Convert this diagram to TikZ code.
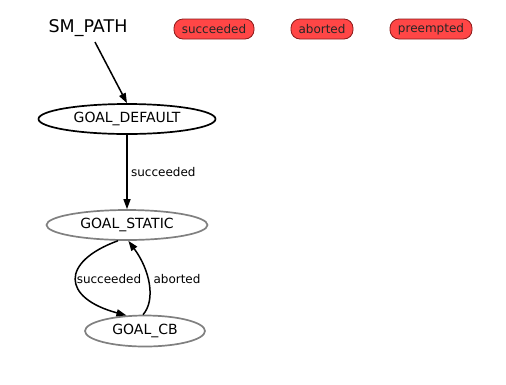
\documentclass[tikz,border=0pt]{standalone}
\usepackage{fontspec}
\setmainfont{DejaVu Sans}
\usetikzlibrary{shapes.geometric,arrows.meta}
\definecolor{outred}{HTML}{FF4646}
\definecolor{outborder}{HTML}{8B1A1A}
\definecolor{stgrey}{HTML}{808080}
\tikzset{
  outcome/.style={rectangle, rounded corners=9pt, fill=outred, draw=outborder, line width=0.8pt,
    font=\fontsize{12}{13}\selectfont, text=black!85, inner sep=0pt, minimum height=20pt},
  activest/.style={ellipse, draw=black, line width=1.7pt, inner sep=0pt,
    font=\fontsize{14}{15}\selectfont},
  idlest/.style={ellipse, draw=stgrey, line width=1.7pt, inner sep=0pt,
    font=\fontsize{14}{15}\selectfont},
  trans/.style={-{Triangle[length=10pt, width=7pt]}, line width=1.5pt},
  tlabel/.style={font=\fontsize{12}{13}\selectfont}
}
\begin{document}
\begin{tikzpicture}[x=1pt, y=-1pt]
\useasboundingbox (0,0) rectangle (506,384);
\node[font=\fontsize{17.5}{18}\selectfont] (path) at (88,28) {SM\_PATH};
\node[outcome, minimum width=80pt] (succ) at (214,29) {succeeded};
\node[outcome, minimum width=62pt] (abrt) at (322,29) {aborted};
\node[outcome, minimum width=82pt] (prem) at (431,29) {preempted};
\node[activest, minimum width=177pt, minimum height=30pt] (default) at (127,119) {GOAL\_DEFAULT};
\node[idlest, minimum width=161pt, minimum height=30pt] (static) at (127,225) {GOAL\_STATIC};
\node[idlest, minimum width=120pt, minimum height=31pt] (cb) at (145,331) {GOAL\_CB};
% transitions
\draw[trans] (path.south) ++(7,2) coordinate (p0) -- (default.north);
\draw[trans] (default) -- node[tlabel, right, pos=0.5] {succeeded} (static);
\draw[trans] (static.240) .. controls (60,262) and (62,298) .. (cb.140);
\node[tlabel] (l1) at (109,279) {succeeded};
\draw[trans] (cb.97) .. controls (156,300) and (150,270) .. (static.275);
\node[tlabel] (l2) at (177,279) {aborted};
\end{tikzpicture}
\end{document}
